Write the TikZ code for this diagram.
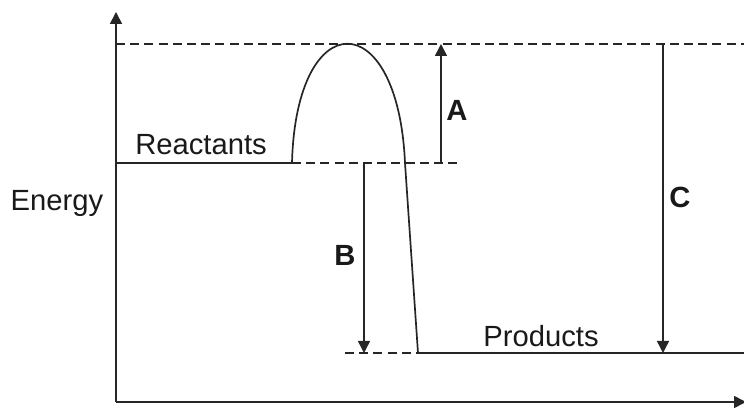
\documentclass[tikz,border=0pt]{standalone}
\usepackage{fontspec}
\setmainfont{Liberation Sans}
\usetikzlibrary{arrows.meta}
\begin{document}
\begin{tikzpicture}[x=0.5pt,y=-0.5pt,>={Triangle[length=6pt,width=6pt]},
  font=\fontsize{14.6}{17}\selectfont,
  axis/.style={->,line width=.85pt,black!85},
  level/.style={line width=.85pt,black!85},
  guide/.style={line width=.75pt,black!85,dash pattern=on 4.5pt off 2.6pt},
  gap/.style={->,line width=.75pt,black!85},
  lab/.style={inner sep=1pt,text=black!90}]
\useasboundingbox (0,0) rectangle (744,410);
% axes
\coordinate (origin) at (116,402);
\coordinate (ytip) at (116,12);
\coordinate (xtip) at (746,402);
\draw[axis] (origin)--(ytip);
\draw[axis] (origin)--(xtip);
\node[lab] (energy) at (57,203) {Energy};
% energy levels
\coordinate (r0) at (116,163);
\coordinate (r1) at (292,163);
\coordinate (r2) at (462,163);
\coordinate (peak) at (348,44);
\coordinate (top0) at (116,44);
\coordinate (top1) at (744,44);
\coordinate (down) at (405,163);
\coordinate (p0) at (345,353);
\coordinate (p1) at (418,353);
\coordinate (p2) at (744,353);
\draw[level] (r0)--(r1);
\draw[guide] (r1)--(r2);
\draw[guide] (top0)--(top1);
\draw[guide] (p0)--(p1);
\draw[level] (p1)--(p2);
\draw[level] (r1) .. controls (296,4) and (398,4) .. (down) -- (p1);
\node[lab] (react) at (201,145) {Reactants};
\node[lab] (prod) at (541,336) {Products};
% gaps
\coordinate (a0) at (441,163);
\coordinate (a1) at (441,44);
\coordinate (b0) at (364,163);
\coordinate (b1) at (364,353);
\coordinate (c0) at (663,44);
\coordinate (c1) at (663,353);
\draw[gap] (a0)--(a1);
\draw[gap] (b0)--(b1);
\draw[gap] (c0)--(c1);
\node[lab,font=\fontsize{14.6}{17}\selectfont\bfseries] (lA) at (457,110) {A};
\node[lab,font=\fontsize{14.6}{17}\selectfont\bfseries] (lB) at (345,255) {B};
\node[lab,font=\fontsize{14.6}{17}\selectfont\bfseries] (lC) at (680,197) {C};
\end{tikzpicture}
\end{document}
